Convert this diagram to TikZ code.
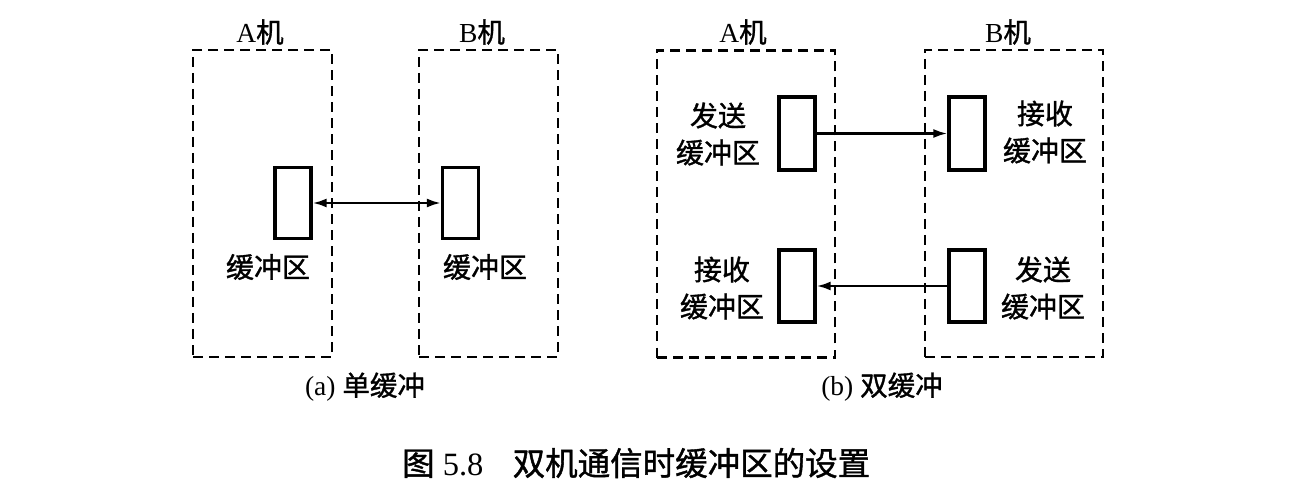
\documentclass[tikz,border=0pt]{standalone}
\usepackage{fontspec}
\setmainfont{Liberation Serif}
\newfontfamily\cjk[FakeBold=1.2]{Noto Sans CJK SC}
\usetikzlibrary{arrows.meta}
\tikzset{
  machine/.style={draw, line width=2.4pt, dash pattern=on 10pt off 6pt, inner sep=0pt, minimum width=#1, minimum height=307pt},
  buf/.style={draw, line width=3.4pt, inner sep=0pt, minimum width=36pt, minimum height=71pt},
  lbl/.style={font=\fontsize{28pt}{37pt}\selectfont\cjk, align=center, inner sep=0pt},
  ttl/.style={font=\fontsize{27.5pt}{30pt}\selectfont, inner sep=0pt},
  conn/.style={line width=2.3pt, arrows={-{Latex[length=14pt,width=9pt]}}},
}
\begin{document}
\begin{tikzpicture}[x=1pt,y=-1pt]
\useasboundingbox (0,0) rectangle (1312,494);
% (a) single buffer
\node[machine=139pt] (aA) at (262.5,203.5) {};
\node[machine=139pt] (aB) at (488.5,203.5) {};
\node[ttl] (aAt) at (260,32) {A{\cjk 机}};
\node[ttl] (aBt) at (482,32) {B{\cjk 机}};
\node[buf] (abA) at (293,203) {};
\node[buf] (abB) at (460.5,203) {};
\draw[conn, arrows={{Latex[length=14pt,width=9pt]}-{Latex[length=14pt,width=9pt]}}] (abA.east) -- (abB.west);
\node[lbl] (alA) at (268,267) {缓冲区};
\node[lbl] (alB) at (485,267) {缓冲区};
\node[ttl] (acap) at (365,387) {(a) {\cjk 单缓冲}};
% (b) double buffer
\node[machine=178pt] (bA) at (746,204) {};
\node[machine=178pt] (bB) at (1014,203.5) {};
\node[ttl] (bAt) at (743,32) {A{\cjk 机}};
\node[ttl] (bBt) at (1008,32) {B{\cjk 机}};
\node[buf, minimum height=73pt] (bsA) at (797,133.5) {};
\node[buf, minimum height=73pt] (brB) at (967,133.5) {};
\node[buf, minimum height=72pt] (brA) at (797,286) {};
\node[buf, minimum height=72pt] (bsB) at (967,286) {};
\draw[conn] (bsA.east) -- (brB.west);
\draw[conn] (bsB.west) -- (brA.east);
\node[lbl] (l1) at (718,134) {发送\\缓冲区};
\node[lbl] (l2) at (1045,132) {接收\\缓冲区};
\node[lbl] (l3) at (722,288) {接收\\缓冲区};
\node[lbl] (l4) at (1043,288) {发送\\缓冲区};
\node[ttl] (bcap) at (882,387) {(b) {\cjk 双缓冲}};
% caption
\node[font=\fontsize{32.5pt}{36pt}\selectfont, anchor=west, inner sep=0pt] (cap) at (402,463) {{\cjk 图} 5.8\hspace{0.9em}{\cjk 双机通信时缓冲区的设置}};
\end{tikzpicture}
\end{document}
